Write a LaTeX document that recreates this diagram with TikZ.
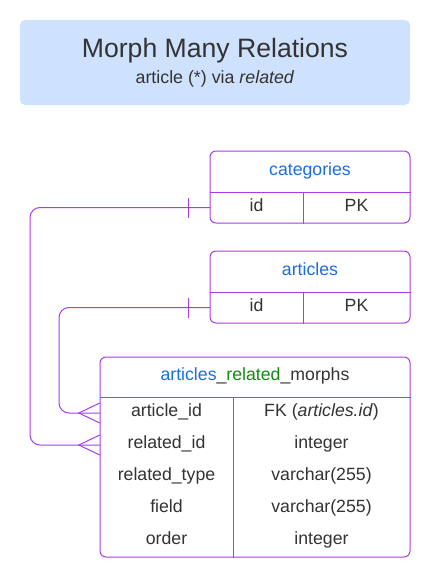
\documentclass[tikz,border=0pt]{standalone}
\usepackage{fontspec}
\setmainfont{Liberation Sans}
\definecolor{erline}{HTML}{AA3BEB}
\definecolor{txt}{HTML}{333333}
\definecolor{hdrblue}{HTML}{1A6FE0}
\definecolor{hdrgreen}{HTML}{138A13}
\definecolor{titlefill}{HTML}{CFE2FD}
\tikzset{
  tbl/.style={draw=erline, line width=1pt, rounded corners=6pt, inner sep=0pt, fill=white},
  cell/.style={inner sep=0pt, text=txt, text height=12pt, text depth=5pt, align=center,
               font=\fontsize{17.7}{20}\selectfont},
  hdr/.style={cell, text=hdrblue},
  divline/.style={draw=erline, line width=1pt},
  conn/.style={draw=erline, line width=1pt, rounded corners=10pt},
  mark line/.style={draw=erline, line width=1pt},
}
\begin{document}
\begin{tikzpicture}[x=1pt,y=-1pt]
\useasboundingbox (0,0) rectangle (430,578);
% title
\node[fill=titlefill, rounded corners=5pt, minimum width=390pt, minimum height=85pt, inner sep=0pt] (title) at (215,62.5) {};
\node[anchor=base, inner sep=0pt, text=txt, font=\fontsize{26.6}{30}\selectfont] (ttl) at (215,57.7) {Morph Many Relations};
\node[anchor=base, inner sep=0pt, text=txt, font=\fontsize{17.8}{20}\selectfont] (sub) at (215,83.7) {article (*) via \textit{related}};

% categories
\node[tbl, minimum width=200pt, minimum height=72pt] (cat) at (310,187) {};
\draw[divline] (cat.west |- 0,192) -- (cat.east |- 0,192);
\draw[divline] (303,192) -- (cat.south -| 303,0);
\node[hdr, minimum width=200pt, minimum height=41pt] (cathdr) at (310,171.5) {categories};
\node[cell, minimum width=93pt, minimum height=31pt] (catid) at (256.5,207.5) {id};
\node[cell, minimum width=107pt, minimum height=31pt] (catpk) at (356.5,207.5) {PK};

% articles
\node[tbl, minimum width=200pt, minimum height=72pt] (art) at (310,287) {};
\draw[divline] (art.west |- 0,292) -- (art.east |- 0,292);
\draw[divline] (303,292) -- (art.south -| 303,0);
\node[hdr, minimum width=200pt, minimum height=41pt] (arthdr) at (310,271.5) {articles};
\node[cell, minimum width=93pt, minimum height=31pt] (artid) at (256.5,307.5) {id};
\node[cell, minimum width=107pt, minimum height=31pt] (artpk) at (356.5,307.5) {PK};

% articles_related_morphs
\node[tbl, minimum width=310pt, minimum height=200pt] (mor) at (255,457) {};
\draw[divline] (mor.west |- 0,397) -- (mor.east |- 0,397);
\draw[divline] (233,397) -- (mor.south -| 233,0);
\node[cell, minimum width=310pt, minimum height=40pt] (morhdr) at (255,377)
  {\textcolor{hdrblue}{articles}\_\textcolor{hdrgreen}{related}\_morphs};
\node[cell, minimum width=133pt, minimum height=32pt] (marticle) at (166.5,413) {article\_id};
\node[cell, minimum width=133pt, minimum height=32pt] (mrelated) at (166.5,445) {related\_id};
\node[cell, minimum width=133pt, minimum height=32pt] (mtype) at (166.5,477) {related\_type};
\node[cell, minimum width=133pt, minimum height=32pt] (mfield) at (166.5,509) {field};
\node[cell, minimum width=133pt, minimum height=32pt] (morder) at (166.5,541) {order};
\node[cell, minimum width=177pt, minimum height=32pt] (tarticle) at (321.5,413) {FK (\textit{articles.id})};
\node[cell, minimum width=177pt, minimum height=32pt] (trelated) at (321.5,445) {integer};
\node[cell, minimum width=177pt, minimum height=32pt] (ttype) at (321.5,477) {varchar(255)};
\node[cell, minimum width=177pt, minimum height=32pt] (tfield) at (321.5,509) {varchar(255)};
\node[cell, minimum width=177pt, minimum height=32pt] (torder) at (321.5,541) {integer};

% connectors
\coordinate (bend1) at (30,445);
\coordinate (bend2) at (59,413);
\draw[conn] (catid.west) -| (bend1) -- (mrelated.west);
\draw[conn] (artid.west) -| (bend2) -- (marticle.west);

% one marks
\draw[mark line] ([xshift=-21pt,yshift=10pt]catid.west) -- ([xshift=-21pt,yshift=-10pt]catid.west);
\draw[mark line] ([xshift=-21pt,yshift=10pt]artid.west) -- ([xshift=-21pt,yshift=-10pt]artid.west);
% crow's feet
\draw[mark line] ([yshift=10pt]mrelated.west) -- ([xshift=-21pt]mrelated.west) -- ([yshift=-10pt]mrelated.west);
\draw[mark line] ([yshift=10pt]marticle.west) -- ([xshift=-21pt]marticle.west) -- ([yshift=-10pt]marticle.west);
\end{tikzpicture}
\end{document}
